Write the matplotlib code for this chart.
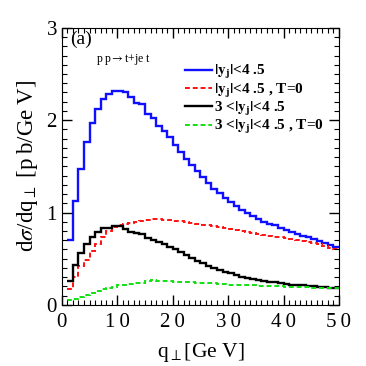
import numpy as np
import matplotlib
matplotlib.use("Agg")
import matplotlib.pyplot as plt
from matplotlib.ticker import MultipleLocator, FuncFormatter

plt.rcParams["font.family"] = ["Liberation Serif", "DejaVu Serif"]
plt.rcParams["mathtext.fontset"] = "stix"

#-----------------------------------------------------------------------
# Data: 1 GeV bins from q_perp = 1 to 50
#-----------------------------------------------------------------------
edges = np.arange(1, 51)

all_y = [0.70, 1.13, 1.475, 1.76, 1.97, 2.12, 2.23, 2.28, 2.32, 2.32,
         2.30, 2.25, 2.19, 2.17, 2.07, 2.02, 1.94, 1.88, 1.82, 1.73,
         1.66, 1.58, 1.51, 1.45, 1.39, 1.32, 1.26, 1.21, 1.16, 1.11,
         1.07, 1.03, 0.99, 0.96, 0.93, 0.90, 0.88, 0.86, 0.83, 0.81,
         0.79, 0.77, 0.75, 0.73, 0.71, 0.69, 0.67, 0.65, 0.63]

all_y_t0 = [0.17, 0.30, 0.42, 0.49, 0.58, 0.66, 0.74, 0.80, 0.84, 0.86,
            0.88, 0.89, 0.90, 0.91, 0.92, 0.93, 0.93, 0.92, 0.92, 0.91,
            0.91, 0.90, 0.89, 0.88, 0.87, 0.86, 0.85, 0.84, 0.83, 0.82,
            0.81, 0.80, 0.79, 0.78, 0.77, 0.76, 0.75, 0.74, 0.73, 0.72,
            0.71, 0.70, 0.69, 0.68, 0.67, 0.66, 0.64, 0.62, 0.60]

fwd_y = [0.26, 0.43, 0.56, 0.66, 0.73, 0.79, 0.83, 0.83, 0.85, 0.85,
         0.82, 0.79, 0.78, 0.77, 0.72, 0.70, 0.68, 0.66, 0.63, 0.60,
         0.57, 0.54, 0.51, 0.48, 0.45, 0.42, 0.40, 0.38, 0.36, 0.34,
         0.32, 0.30, 0.29, 0.28, 0.27, 0.26, 0.25, 0.245, 0.24, 0.23,
         0.22, 0.215, 0.21, 0.205, 0.20, 0.195, 0.19, 0.185, 0.18]

fwd_y_t0 = [0.05, 0.06, 0.08, 0.11, 0.13, 0.15, 0.17, 0.18, 0.19, 0.21,
            0.22, 0.23, 0.235, 0.24, 0.255, 0.265, 0.26, 0.255, 0.255, 0.25,
            0.25, 0.245, 0.245, 0.24, 0.24, 0.235, 0.235, 0.23, 0.225, 0.22,
            0.22, 0.215, 0.21, 0.21, 0.205, 0.205, 0.20, 0.20, 0.20, 0.195,
            0.195, 0.19, 0.19, 0.19, 0.185, 0.185, 0.18, 0.18, 0.18]

labels = [r"$\mathbf{|y_j|}$<4 .5",
          r"$\mathbf{|y_j|}$<4 .5 , T=0",
          r"3 <$\mathbf{|y_j|}$<4 .5",
          r"3 <$\mathbf{|y_j|}$<4 .5 , T=0"]

#-----------------------------------------------------------------------
# Plot
#-----------------------------------------------------------------------
fig = plt.figure(figsize=(3.66, 3.66), dpi=100)
ax = fig.add_axes([0.169, 0.167, 0.757, 0.757])

ax.stairs(all_y, edges, baseline=None, color="#1010ff", lw=1.7, label=labels[0])
ax.stairs(all_y_t0, edges, baseline=None, color="#ff1010", lw=1.4, ls=(0, (2.5, 1.5)), label=labels[1])
ax.stairs(fwd_y, edges, baseline=None, color="black", lw=1.7, label=labels[2])
ax.stairs(fwd_y_t0, edges, baseline=None, color="#10e010", lw=1.4, ls=(0, (2.5, 1.5)), label=labels[3])

# spaced-out digits like the original typesetting
spaced = FuncFormatter(lambda v, p: "\u2009".join("%g" % v))

ax.set_xlim(0, 50)
ax.set_ylim(0, 3)
ax.xaxis.set_major_locator(MultipleLocator(10))
ax.xaxis.set_minor_locator(MultipleLocator(1))
ax.yaxis.set_major_locator(MultipleLocator(1))
ax.yaxis.set_minor_locator(MultipleLocator(0.1))
ax.xaxis.set_major_formatter(spaced)
ax.tick_params(which="both", direction="in", top=True, right=True, labelsize=15)
ax.tick_params(which="major", length=7, width=1)
ax.tick_params(which="minor", length=3.5, width=0.8)
ax.tick_params(axis="x", pad=6)

ax.set_xlabel(r"q$_\perp$[Ge V]", fontsize=15.5, labelpad=6)
ax.set_ylabel("d$\\sigma$/dq$_\\perp$ [p\u2009b/Ge\u2009V]", fontsize=16.5, labelpad=5)

ax.text(0.03, 0.957, "(a)", transform=ax.transAxes, fontsize=14, va="center", ha="left")
ax.text(0.123, 0.887, "p\u2009p$\\rightarrow$t+je\u2009t", transform=ax.transAxes, fontsize=8.5, va="center", ha="left")

ax.legend(loc="upper left", bbox_to_anchor=(0.444, 0.872), frameon=False,
          prop={"size": 11, "weight": "bold"}, handlelength=1.8,
          handletextpad=0.08, labelspacing=0.02, borderpad=0, borderaxespad=0)

fig.savefig("out.png", dpi=100)
